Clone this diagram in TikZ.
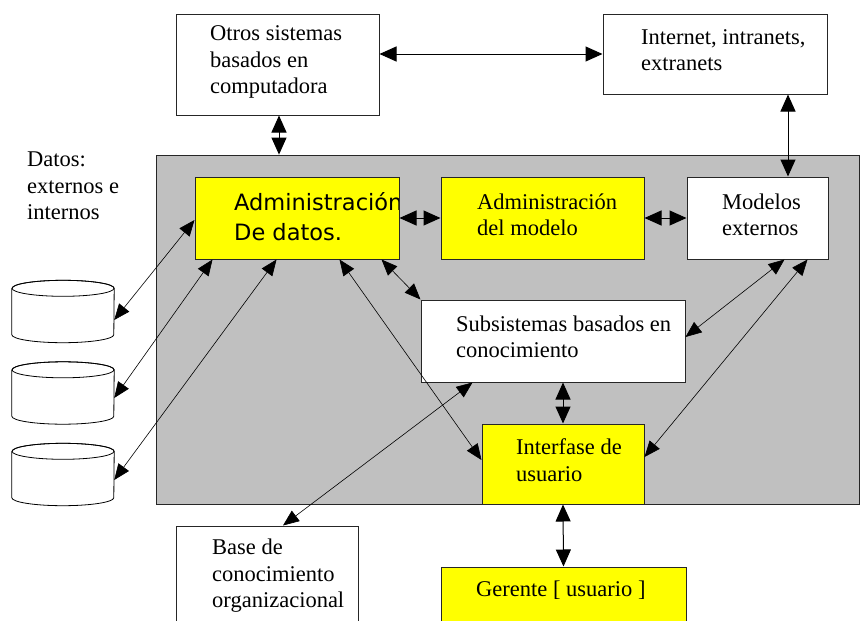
\documentclass[tikz,border=0pt]{standalone}
\usepackage{fontspec}
\setmainfont{Liberation Serif}
\newfontfamily\verd{DejaVu Sans}
\usetikzlibrary{arrows.meta,calc}
\definecolor{panel}{HTML}{C0C0C0}
\definecolor{hl}{HTML}{FFFF00}
\begin{document}
\begin{tikzpicture}[x=1pt,y=-1pt,
  box/.style={draw=black!85,line width=1pt,inner sep=0pt},
  txt/.style={anchor=west,align=left,inner sep=0pt,font=\rmfamily\fontsize{22.5}{26.5}\selectfont},
  link/.style={line width=1pt,{Triangle[length=17pt,width=15pt]}-{Triangle[length=17pt,width=15pt]}},
  dlink/.style={line width=0.6pt,{Triangle[length=16pt,width=13pt]}-{Triangle[length=16pt,width=13pt]}}]
\useasboundingbox (0,0) rectangle (860,621);
\clip (0,0) rectangle (860,621);
\fill[white] (0,0) rectangle (860,621);
% panel
\node[box,fill=panel,line width=0.8pt,minimum width=703pt,minimum height=349pt] (gray) at (507.5,329.5) {};
% boxes
\node[box,fill=white,minimum width=203pt,minimum height=101pt] (otros) at (277.5,64.5) {};
\node[box,fill=white,minimum width=224pt,minimum height=80pt] (internet) at (715,54) {};
\node[box,fill=hl,minimum width=204pt,minimum height=82pt] (datos) at (297,218) {};
\node[box,fill=hl,minimum width=203pt,minimum height=82pt] (modelo) at (542.5,218) {};
\node[box,fill=white,minimum width=141pt,minimum height=82pt] (modelos) at (757.5,218) {};
\node[box,fill=white,minimum width=264pt,minimum height=82pt] (subs) at (553,341) {};
\node[box,fill=hl,minimum width=162pt,minimum height=80pt] (interf) at (563,464) {};
\node[box,fill=hl,minimum width=245pt,minimum height=73pt] (gerente) at (563.5,603.5) {};
\node[box,fill=white,minimum width=182pt,minimum height=114pt] (base) at (267,583) {};
% cylinders
\foreach \n/\cy in {c1/311.5,c2/393,c3/474.5}{
  \node[minimum width=102pt,minimum height=62pt,inner sep=0pt] (\n) at (63,\cy) {};
  \draw[line width=0.8pt,fill=white] ([yshift=-8pt]\n.north west) -- ([yshift=8pt]\n.south west)
     arc[start angle=180,end angle=360,x radius=51pt,y radius=8pt] -- ([yshift=-8pt]\n.north east)
     arc[start angle=0,end angle=180,x radius=51pt,y radius=8pt];
  \draw[line width=0.8pt] ([yshift=-8pt]\n.north) ellipse[x radius=51pt,y radius=8pt];
}
% texts
\node[txt] (otrosT) at (210,62) {Otros sistemas\\basados en\\computadora};
\node[txt] (internetT) at (641,50) {Internet, intranets,\\extranets};
\begin{scope}
  \clip (datos.north west) rectangle (datos.south east);
  \node[anchor=west,align=left,inner sep=0pt,font=\verd\fontsize{22.5}{30}\selectfont] (datosT) at (234,217) {Administración\\De datos.};
\end{scope}
\node[box,minimum width=204pt,minimum height=82pt] at (datos.center) {};
\node[txt] (modeloT) at (477,215) {Administración\\del modelo};
\node[txt] (modelosT) at (722,215) {Modelos\\externos};
\node[txt] (subsT) at (456,337) {Subsistemas basados en\\conocimiento};
\node[txt] (interfT) at (516,460) {Interfase de\\usuario};
\node[txt] (gerenteT) at (476,590) {Gerente [ usuario ]};
\node[txt] (baseT) at (212,576) {Base de\\conocimiento\\organizacional};
\node[txt] (datosL) at (27,186) {Datos:\\externos e\\internos};
% straight connectors
\draw[link] (otros.east |- internet.west) -- (internet.west);
\draw[link] ([xshift=1.5pt]otros.south) -- ([xshift=1.5pt]otros.south |- gray.north);
\draw[link] ([xshift=30.5pt]modelos.north |- internet.south) -- ([xshift=30.5pt]modelos.north);
\draw[link] (datos.east) -- (modelo.west);
\draw[link] (modelo.east) -- (modelos.west);
\draw[link] (interf.north |- subs.south) -- (interf.north);
\draw[link] (interf.south) -- (gerente.north);
% diagonal connectors
\draw[dlink] ([yshift=-2pt]datos.west) -- ([yshift=-8.5pt]c1.east);
\draw[dlink] ([xshift=18pt]datos.south west) -- ([yshift=-5pt]c2.east);
\draw[dlink] ([xshift=82pt]datos.south west) -- ([yshift=-5.5pt]c3.east);
\draw[dlink] ([xshift=145pt]datos.south west) -- ([yshift=4pt]interf.west);
\draw[dlink] ([xshift=187pt]datos.south west) -- (subs.north west);
\draw[dlink] ([xshift=98pt]modelos.south west) -- ([yshift=4pt]subs.east);
\draw[dlink] ([xshift=121pt]modelos.south west) -- ([yshift=7pt]interf.east);
\draw[dlink] ([xshift=52pt]subs.south west) -- ([xshift=16pt]base.north);
\end{tikzpicture}
\end{document}
